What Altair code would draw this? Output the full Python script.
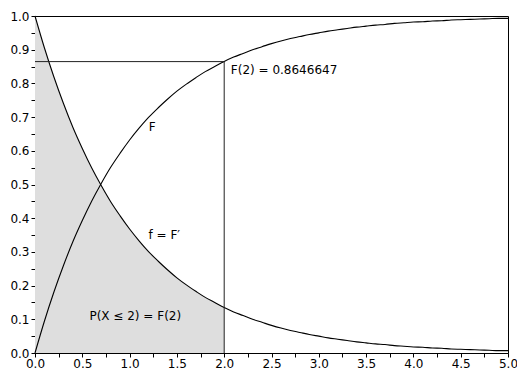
import altair as alt
import pandas as pd

xs = [round(i * 0.1, 1) for i in range(51)]
f_vals = [1.000, 0.905, 0.819, 0.741, 0.670, 0.607, 0.549, 0.497, 0.449, 0.407,
          0.368, 0.333, 0.301, 0.273, 0.247, 0.223, 0.202, 0.183, 0.165, 0.150,
          0.135, 0.122, 0.111, 0.100, 0.091, 0.082, 0.074, 0.067, 0.061, 0.055,
          0.050, 0.045, 0.041, 0.037, 0.033, 0.030, 0.027, 0.025, 0.022, 0.020,
          0.018, 0.017, 0.015, 0.014, 0.012, 0.011, 0.010, 0.009, 0.008, 0.007,
          0.007]
F_vals = [0.000, 0.095, 0.181, 0.259, 0.330, 0.393, 0.451, 0.503, 0.551, 0.593,
          0.632, 0.667, 0.699, 0.727, 0.753, 0.777, 0.798, 0.817, 0.835, 0.850,
          0.865, 0.878, 0.889, 0.900, 0.909, 0.918, 0.926, 0.933, 0.939, 0.945,
          0.950, 0.955, 0.959, 0.963, 0.967, 0.970, 0.973, 0.975, 0.978, 0.980,
          0.982, 0.983, 0.985, 0.986, 0.988, 0.989, 0.990, 0.991, 0.992, 0.993,
          0.993]
x_mark = 2.0
F_at_mark = 0.8646647

labels = ["F(2) = 0.8646647", "F", "f = F\u2032", "P(X \u2264 2) = F(2)"]
label_x = [2.07, 1.24, 1.2, 1.06]
label_y = [0.84, 0.67, 0.35, 0.11]
label_align = ["left", "center", "left", "center"]

x_ticks = [i * 0.25 for i in range(21)]
y_ticks = [round(i * 0.05, 2) for i in range(21)]

df = pd.DataFrame({"x": xs, "f": f_vals, "F": F_vals})
area_df = df[df["x"] <= x_mark]
lab_df = pd.DataFrame({"x": label_x, "y": label_y, "t": labels, "a": label_align})

font = "DejaVu Sans"
xscale = alt.Scale(domain=[0, 5], nice=False)
yscale = alt.Scale(domain=[0, 1], nice=False)

xaxis = alt.Axis(values=x_ticks, format=".1f",
                 labelExpr="abs(datum.value*2 - round(datum.value*2)) < 0.001 ? datum.label : ''",
                 title=None, grid=False, tickSize=4, labelPadding=1,
                 labelOverlap=False, labelFlush=False)
yaxis = alt.Axis(values=y_ticks, format=".1f",
                 labelExpr="abs(datum.value*10 - round(datum.value*10)) < 0.001 ? datum.label : ''",
                 title=None, grid=False, tickSize=4, labelPadding=2,
                 labelOverlap=False, labelFlush=False)


def X(field):
    return alt.X(field, scale=xscale, axis=xaxis)


def Y(field):
    return alt.Y(field, scale=yscale, axis=yaxis)


area = alt.Chart(area_df).mark_area(color="#dedede", interpolate="monotone").encode(
    x=X("x:Q"), y=Y("f:Q"))
line_f = alt.Chart(df).mark_line(color="black", strokeWidth=1.1, interpolate="monotone").encode(
    x=X("x:Q"), y=Y("f:Q"))
line_F = alt.Chart(df).mark_line(color="black", strokeWidth=1.1, interpolate="monotone").encode(
    x=X("x:Q"), y=Y("F:Q"))

rules_df = pd.DataFrame({"x": [0.0, x_mark], "x2": [x_mark, x_mark],
                         "y": [F_at_mark, 0.0], "y2": [F_at_mark, F_at_mark]})
rules = alt.Chart(rules_df).mark_rule(color="#222222", strokeWidth=1).encode(
    x=X("x:Q"), x2="x2:Q", y=Y("y:Q"), y2="y2:Q")

texts = []
for al in ["left", "center"]:
    texts.append(
        alt.Chart(lab_df[lab_df["a"] == al]).mark_text(
            align=al, baseline="middle", font=font, fontSize=12, color="black"
        ).encode(x=X("x:Q"), y=Y("y:Q"), text="t:N")
    )

chart = alt.layer(area, line_f, line_F, rules, *texts).properties(
    width=473, height=337,
    autosize=alt.AutoSizeParams(type="none"),
    padding={"left": 27, "top": 8, "right": 9, "bottom": 16},
).configure_view(stroke="black", strokeWidth=1).configure_axis(
    domainColor="black", tickColor="black", labelColor="black",
    labelFont=font, labelFontSize=12,
)

chart.save("out.html", embed_options={"renderer": "svg", "actions": False})
